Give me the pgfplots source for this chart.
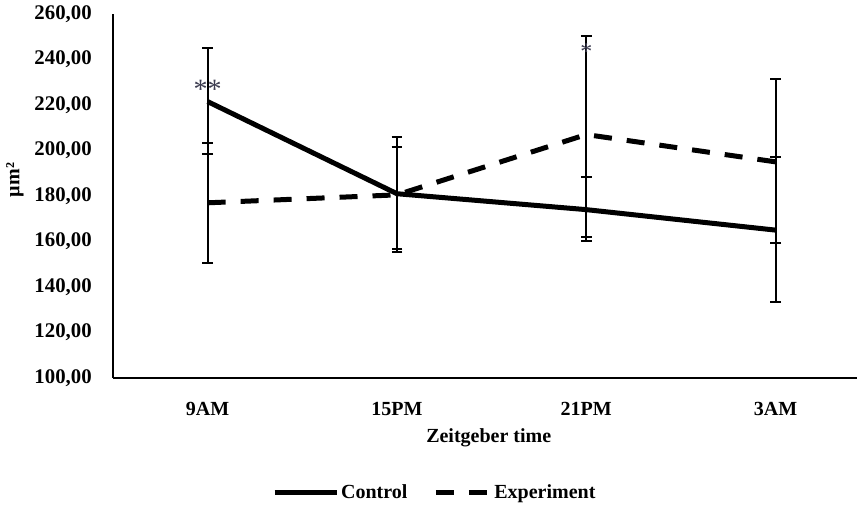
\documentclass[border=0pt]{standalone}
\usepackage{fontspec}
\setmainfont{Liberation Serif}
\usepackage{pgfplots}
\pgfplotsset{compat=1.18}
\definecolor{stargray}{RGB}{60,60,80}
\pgfplotsset{dashlegend/.style={legend image code/.code={\draw[##1] (4pt,0pt) -- (31pt,0pt);}}}
\begin{document}
\begin{tikzpicture}
\begin{axis}[
  name=ax,
  scale only axis, width=372pt, height=182pt,
  xmin=-0.5, xmax=3.43, ymin=100, ymax=260,
  axis x line=bottom, axis y line=left,
  axis line style={-, line width=1pt},
  tick style={draw=none},
  xtick={0,1,2,3}, xticklabels={9AM,15PM,21PM,3AM},
  ytick={100,120,...,260},
  /pgf/number format/assume math mode=true,
  yticklabel={\pgfmathprintnumber[fixed,fixed zerofill,precision=2,use comma,1000 sep={}]{\tick}},
  font=\fontsize{10}{12}\selectfont\bfseries,
  yticklabel style={xshift=-5pt, font=\fontsize{10.4}{12}\selectfont\bfseries},
  xticklabel style={yshift=-6.5pt},
  xlabel={Zeitgeber time},
  xlabel style={at={(axis description cs:0.505,0)}, anchor=center, yshift=-30pt},
  ylabel={µm²},
  ylabel style={at={(axis description cs:-0.1317,0.544)}, anchor=center, font=\fontsize{10}{10}\selectfont\bfseries},
  clip=false,
  legend style={at={(axis description cs:0.4325,0)}, anchor=center, yshift=-57.5pt, draw=none,
    legend columns=2, font=\fontsize{10}{11}\selectfont\bfseries,
    nodes={inner xsep=1pt},
    /tikz/every even column/.append style={column sep=12pt}},
  legend image code/.code={\draw[#1] (0pt,0pt) -- (31pt,0pt);},
  error bars/error bar style={line width=1pt, black, solid},
  error bars/error mark options={line width=1pt, mark size=2.7pt, rotate=90, solid},
]
\addplot[black, line width=2.5pt, error bars/.cd, y dir=both, y explicit]
  coordinates {
    (0,221.5) += (0,23.5) -= (0,23)
    (1,181) += (0,25) -= (0,25.5)
    (2,174) += (0,14.5) -= (0,14)
    (3,165) += (0,32) -= (0,31.6)
  };
\addlegendentry{Control}
\addplot[black, line width=2.5pt, dash pattern=on 9pt off 7.5pt, dashlegend,
  error bars/.cd, y dir=both, y explicit]
  coordinates {
    (0,177) += (0,26.3) -= (0,26.5)
    (1,180.5) += (0,21) -= (0,24)
    (2,207) += (0,43.5) -= (0,45)
    (3,195) += (0,36.5) -= (0,35.7)
  };
\addlegendentry{Experiment}
\node[font=\fontsize{14}{14}\selectfont\mdseries, text=stargray] at (axis cs:0,227) {**};
\node[font=\fontsize{12}{12}\selectfont\mdseries, text=stargray] at (axis cs:2,243.5) {*};
\end{axis}
\pgfresetboundingbox
\path ([xshift=-56.5pt,yshift=-64pt]ax.south west) rectangle ([yshift=7pt]ax.north east);
\end{tikzpicture}
\end{document}
